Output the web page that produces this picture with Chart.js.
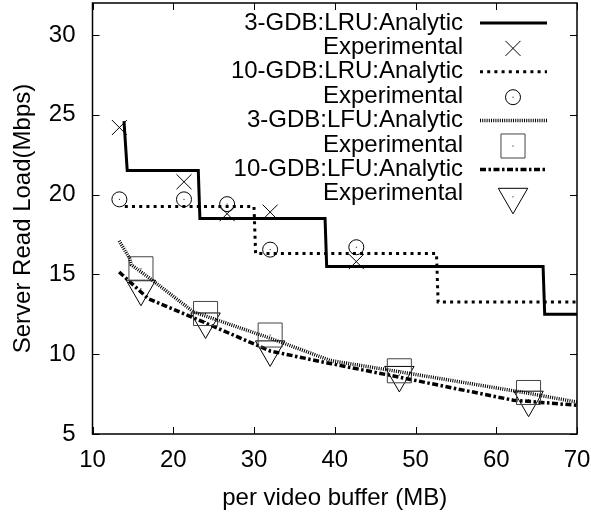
<!DOCTYPE html>
<html>
<head>
<meta charset="utf-8">
<script src="https://cdn.jsdelivr.net/npm/chart.js@4/dist/chart.umd.min.js"></script>
<style>
  html, body { margin: 0; padding: 0; background: #fff; }
</style>
</head>
<body>
<canvas id="chart" width="591" height="514"></canvas>
<script>
// ---- data ----
const xTicks = [10, 20, 30, 40, 50, 60, 70];
const yTicks = [5, 10, 15, 20, 25, 30];

// analytic curves (x in MB, y in Mbps)
const lru3X = [13.9, 14.3, 23.1, 23.3, 38.8, 39.0, 65.8, 66.0, 70];
const lru3Y = [24.6, 21.5, 21.5, 18.5, 18.5, 15.5, 15.5, 12.5, 12.5];
const lru10X = [14.0, 30.0, 30.2, 52.6, 52.8, 70];
const lru10Y = [19.25, 19.25, 16.3, 16.3, 13.27, 13.27];
const lfu3X = [13.3, 14.6, 14.8, 17.5, 22.5, 32, 39.5, 48, 64, 70];
const lfu3Y = [17.1, 16.0, 15.6, 14.6, 12.65, 11.0, 9.6, 8.9, 7.55, 7.0];
const lfu10X = [13.3, 16.9, 23.7, 32, 39.4, 48, 51.8, 62.1, 70];
const lfu10Y = [15.15, 13.48, 12.02, 10.2, 9.42, 8.56, 8.17, 7.12, 6.8];

// experimental points
const lruExpX = [13.33, 21.33, 26.67, 32, 42.67];
const lru3Exp = [24.2, 20.8, 18.8, 18.9, 15.8];
const lru10Exp = [19.7, 19.7, 19.4, 16.55, 16.7];
const lfuExpX = [16, 24, 32, 48, 64];
const lfu3Exp = [15.35, 12.55, 11.2, 8.96, 7.6];
const lfu10Exp = [14.1, 12.05, 10.3, 8.7, 7.15];

const labels = [
  '3-GDB:LRU:Analytic', 'Experimental',
  '10-GDB:LRU:Analytic', 'Experimental',
  '3-GDB:LFU:Analytic', 'Experimental',
  '10-GDB:LFU:Analytic', 'Experimental'
];

const pts = (xs, ys) => xs.map((x, i) => ({ x: x, y: ys[i] }));

function curve(label, xs, ys, width, dash) {
  return {
    label: label, data: pts(xs, ys), showLine: true,
    borderColor: '#000', borderWidth: width, borderDash: dash,
    pointRadius: 0, pointHoverRadius: 0, fill: false
  };
}
function marks(label, xs, ys, style, radius, color, dot) {
  return {
    label: label, data: pts(xs, ys), showLine: false,
    pointStyle: style, pointRadius: radius, pointHoverRadius: radius,
    pointRotation: style === 'triangle' ? 180 : 0,
    borderColor: color, backgroundColor: 'rgba(0,0,0,0)', pointBorderWidth: 1,
    centerDot: dot
  };
}

Chart.defaults.font.family = "'Liberation Sans', Arial, sans-serif";
Chart.defaults.font.size = 24;
Chart.defaults.color = '#000';

// border box, inward ticks on all four sides, small centre dots of the markers
const frame = {
  id: 'frame',
  afterDatasetsDraw(chart) {
    const { ctx, chartArea: a, scales: { x, y } } = chart;
    ctx.save();
    chart.data.datasets.forEach((ds, i) => {
      if (!ds.centerDot) return;
      ctx.fillStyle = '#000';
      chart.getDatasetMeta(i).data.forEach(p => ctx.fillRect(p.x - 0.5, p.y - 0.5, 1, 1));
    });
    ctx.strokeStyle = '#000';
    ctx.lineWidth = 1;
    ctx.beginPath();
    xTicks.forEach(v => {
      const p = Math.round(x.getPixelForValue(v)) + 0.5;
      ctx.moveTo(p, a.bottom); ctx.lineTo(p, a.bottom - 7);
      ctx.moveTo(p, a.top); ctx.lineTo(p, a.top + 7);
    });
    yTicks.forEach(v => {
      const p = Math.round(y.getPixelForValue(v)) + 0.5;
      ctx.moveTo(a.left, p); ctx.lineTo(a.left + 7, p);
      ctx.moveTo(a.right, p); ctx.lineTo(a.right - 7, p);
    });
    ctx.stroke();
    ctx.lineWidth = 1.5;
    ctx.strokeRect(a.left, a.top, a.right - a.left, a.bottom - a.top);
    ctx.restore();
  }
};

// gnuplot-style key: right-aligned text, sample on the right
function drawMark(ctx, ds, cx, cy) {
  const r = ds.pointRadius;
  ctx.beginPath();
  if (ds.pointStyle === 'crossRot') {
    const d = r * Math.SQRT1_2;
    ctx.moveTo(cx - d, cy - d); ctx.lineTo(cx + d, cy + d);
    ctx.moveTo(cx + d, cy - d); ctx.lineTo(cx - d, cy + d);
  } else if (ds.pointStyle === 'circle') {
    ctx.arc(cx, cy, r, 0, Math.PI * 2);
  } else if (ds.pointStyle === 'rect') {
    const s = r * Math.SQRT1_2;
    ctx.rect(cx - s, cy - s, 2 * s, 2 * s);
  } else if (ds.pointStyle === 'triangle') {
    for (let k = 0; k < 3; k++) {
      const ang = Math.PI + k * 2 * Math.PI / 3;
      const px = cx + Math.sin(ang) * r, py = cy - Math.cos(ang) * r;
      if (k === 0) ctx.moveTo(px, py); else ctx.lineTo(px, py);
    }
    ctx.closePath();
  }
  ctx.stroke();
  if (ds.centerDot) ctx.fillRect(cx - 0.5, cy - 0.5, 1, 1);
}

const key = {
  id: 'key',
  afterDraw(chart) {
    const { ctx } = chart;
    ctx.save();
    ctx.font = "24px 'Liberation Sans', Arial, sans-serif";
    ctx.textAlign = 'right';
    ctx.textBaseline = 'middle';
    chart.data.datasets.forEach((ds, i) => {
      const cy = 23 + i * 24.4;
      ctx.fillStyle = '#000';
      ctx.fillText(ds.label, 463, cy);
      ctx.strokeStyle = ds.borderColor;
      if (ds.showLine) {
        ctx.lineWidth = ds.borderWidth;
        ctx.setLineDash(ds.borderDash || []);
        ctx.beginPath(); ctx.moveTo(480, cy); ctx.lineTo(547, cy); ctx.stroke();
        ctx.setLineDash([]);
      } else {
        ctx.lineWidth = 1;
        drawMark(ctx, ds, 513, ds.pointStyle === 'triangle' ? cy + 3 : cy + 1);
      }
    });
    ctx.restore();
  }
};

new Chart(document.getElementById('chart'), {
  type: 'scatter',
  data: {
    datasets: [
      curve(labels[0], lru3X, lru3Y, 3, []),
      marks(labels[1], lruExpX, lru3Exp, 'crossRot', 10.6, '#000', false),
      curve(labels[2], lru10X, lru10Y, 3, [3, 4.2]),
      marks(labels[3], lruExpX, lru10Exp, 'circle', 7.5, '#000', true),
      curve(labels[4], lfu3X, lfu3Y, 3.5, [1, 1.2]),
      marks(labels[5], lfuExpX, lfu3Exp, 'rect', 17, '#444', true),
      curve(labels[6], lfu10X, lfu10Y, 3.5, [6, 2.5, 2.5, 2.5]),
      marks(labels[7], lfuExpX, lfu10Exp, 'triangle', 17, '#000', true)
    ]
  },
  options: {
    responsive: false,
    animation: false,
    events: [],
    layout: { autoPadding: false, padding: { left: 0, right: 14, top: 3, bottom: 0 } },
    plugins: { legend: { display: false }, tooltip: { enabled: false } },
    scales: {
      x: {
        type: 'linear', min: 10, max: 70,
        grid: { display: false, drawTicks: false }, border: { display: false },
        afterBuildTicks: s => { s.ticks = xTicks.map(v => ({ value: v })); },
        afterFit: s => { s.height = 80; s.paddingLeft = 0; s.paddingRight = 0; },
        ticks: { padding: 12, maxRotation: 0, autoSkip: false },
        title: { display: true, text: 'per video buffer (MB)', padding: { top: 0, bottom: 1 } }
      },
      y: {
        type: 'linear', min: 5, max: 32,
        grid: { display: false, drawTicks: false }, border: { display: false },
        afterBuildTicks: s => { s.ticks = yTicks.map(v => ({ value: v })); },
        afterFit: s => { s.width = 92.5; s.paddingTop = 0; s.paddingBottom = 0; },
        ticks: { padding: 17, autoSkip: false },
        title: { display: true, text: 'Server Read Load(Mbps)', padding: { top: 9, bottom: 0 } }
      }
    }
  },
  plugins: [frame, key]
});
</script>
</body>
</html>
